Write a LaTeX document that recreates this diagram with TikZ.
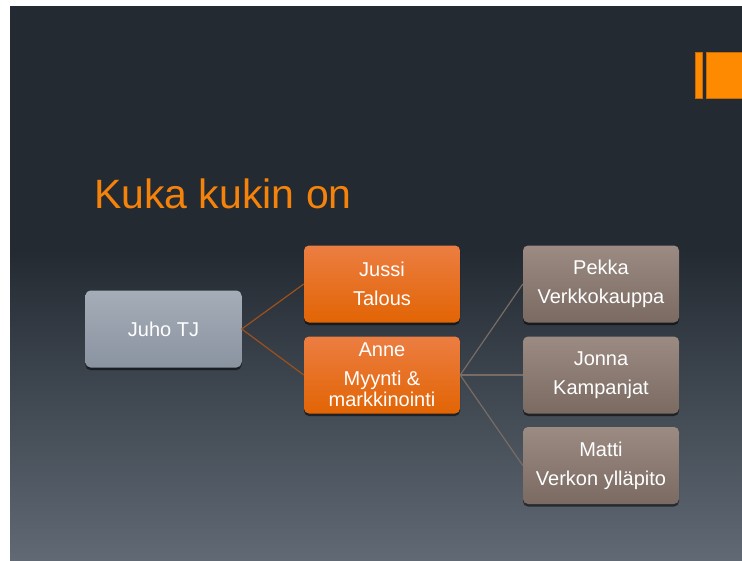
\documentclass[tikz,border=0pt]{standalone}
\usepackage{fontspec}
\setmainfont{Liberation Sans}
\usetikzlibrary{shadows}

\definecolor{bgtop}{HTML}{232A32}
\definecolor{bgmid}{HTML}{353D47}
\definecolor{bgbot}{HTML}{606974}
\definecolor{accent}{HTML}{FD8A00}
\definecolor{accentline}{HTML}{C86A08}
\definecolor{titleor}{HTML}{F5820A}
\definecolor{chieftop}{HTML}{A5ADB8}
\definecolor{chiefbot}{HTML}{8A93A0}
\definecolor{leadtop}{HTML}{EC7E42}
\definecolor{leadbot}{HTML}{E26404}
\definecolor{stafftop}{HTML}{9B8B83}
\definecolor{staffbot}{HTML}{7A6A62}
\definecolor{leadlink}{HTML}{9E501C}
\definecolor{stafflink}{HTML}{776C66}

\tikzset{
   box/.style={rectangle, rounded corners=5pt, minimum width=156pt,
      minimum height=77pt, text=white, align=center,
      font=\fontsize{20}{29}\selectfont,
      drop shadow={shadow xshift=0pt, shadow yshift=-2.5pt, opacity=.55, fill=black}},
   chief/.style={box, top color=chieftop, bottom color=chiefbot},
   lead/.style={box, top color=leadtop, bottom color=leadbot},
   staff/.style={box, top color=stafftop, bottom color=staffbot},
   link/.style={line width=1.2pt}
}

\begin{document}
\begin{tikzpicture}[x=1pt, y=-1pt]
   \useasboundingbox[fill=white] (0,0) rectangle (742,560);
   % slide background
   \fill[bgtop] (10,6) rectangle (742,560);
   \shade[top color=bgtop, middle color=bgmid, bottom color=bgbot] (10,250) rectangle (742,560);
   \fill[accent, draw=accentline, line width=.6pt] (695,52) rectangle (702,98);
   \fill[accent, draw=accentline, line width=.6pt] (706,52) rectangle (743,98);
   \node[anchor=base west, inner sep=0pt, text=titleor, font=\fontsize{41}{48}\selectfont]
      (title) at (94,208) {Kuka kukin on};
   % org chart
   \node[chief] (juho) at (163.5,329) {Juho TJ};
   \def \Leads {
      jussi/284/{Jussi\\Talous},
      anne/375/{Anne\\Myynti \&\\[-8pt]markkinointi}}
   \def \Staff {
      pekka/284/{Pekka\\Verkkokauppa},
      jonna/375/{Jonna\\Kampanjat},
      matti/465.5/{Matti\\Verkon ylläpito}}
   \foreach \n / \y / \t in \Leads {
      \node[lead] (\n) at (382,\y) {\t};
   }
   \foreach \n / \y / \t in \Staff {
      \node[staff] (\n) at (601,\y) {\t};
   }
   \foreach \n / \y / \t in \Leads {
      \draw[link, leadlink] (juho.east) -- (\n.west);
   }
   \foreach \n / \y / \t in \Staff {
      \draw[link, stafflink] (anne.east) -- (\n.west);
   }
\end{tikzpicture}
\end{document}
